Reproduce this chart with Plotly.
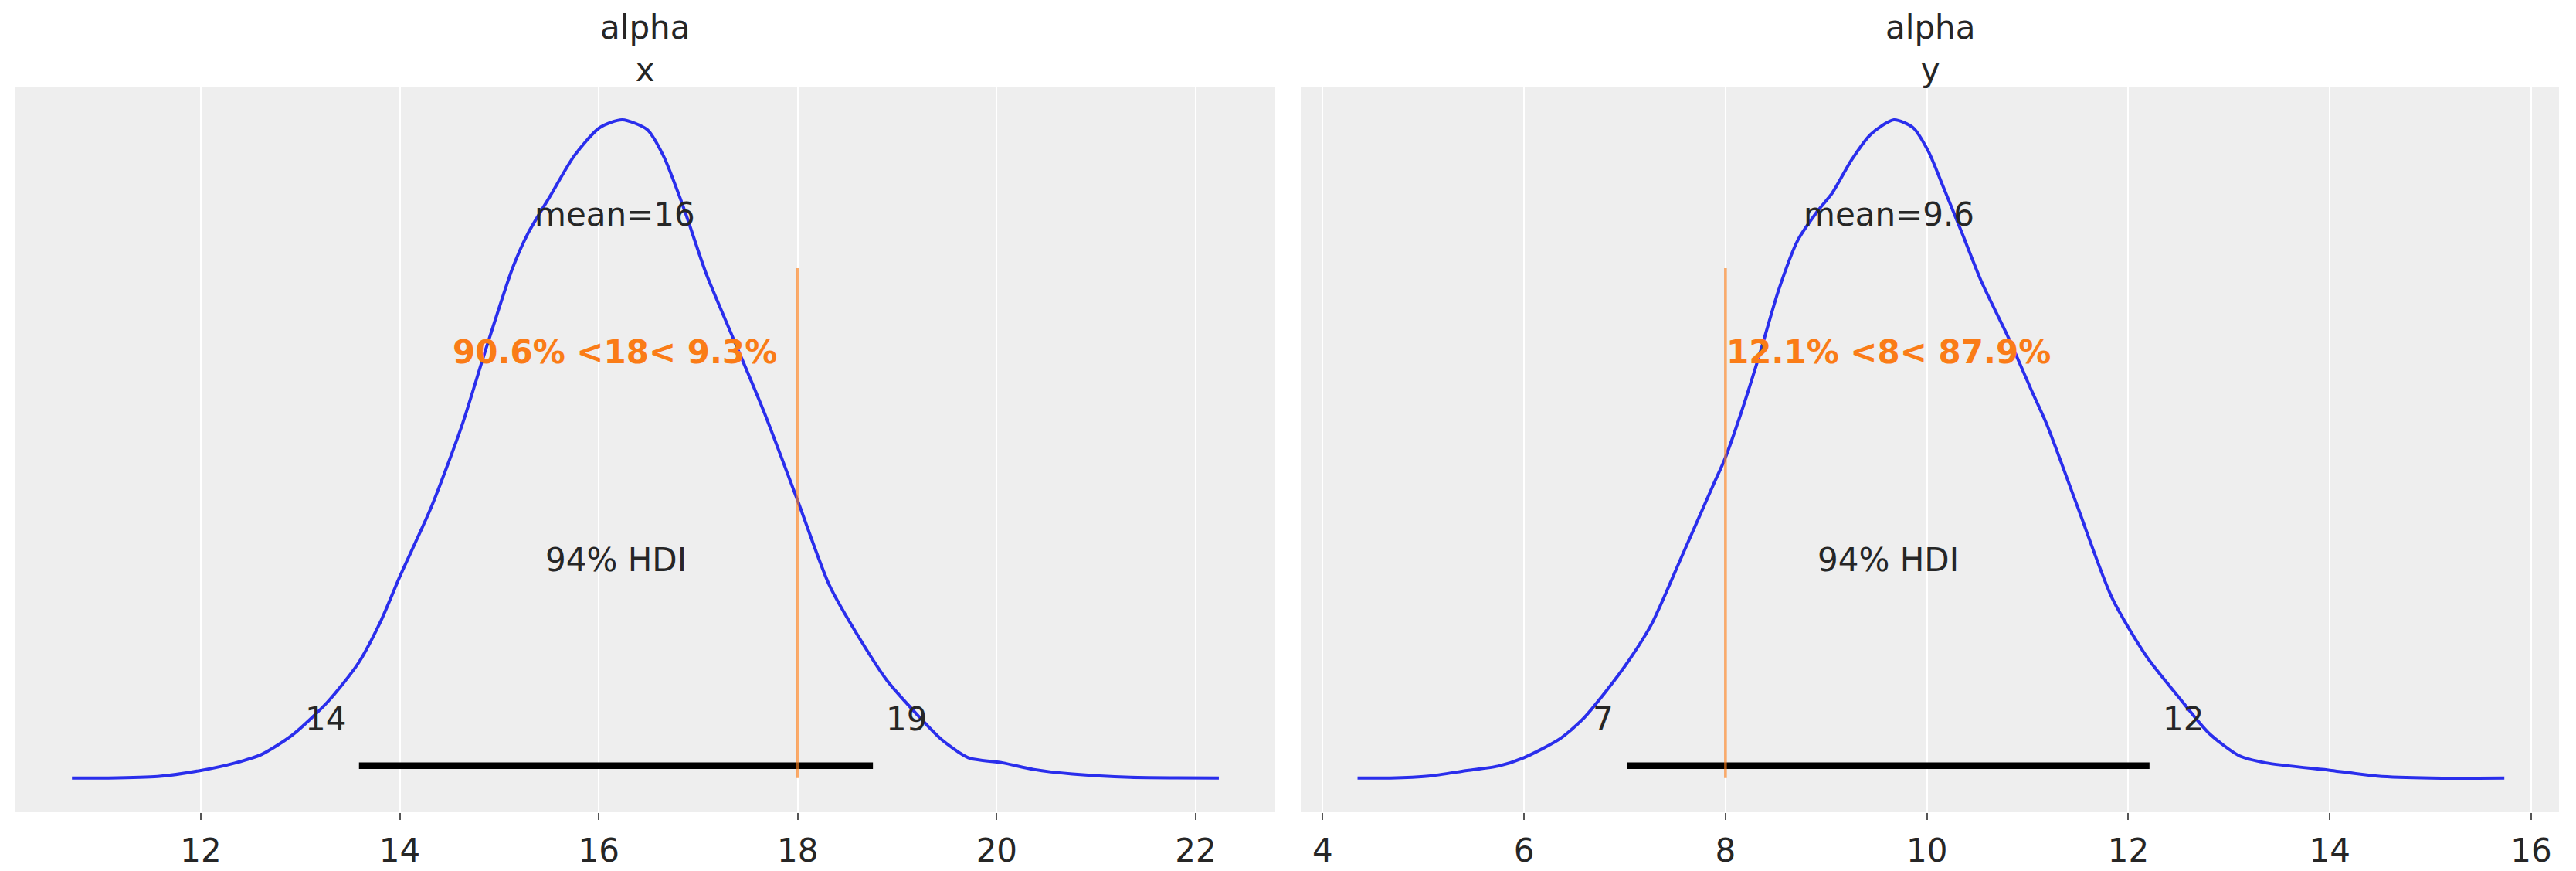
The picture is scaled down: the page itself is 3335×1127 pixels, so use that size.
import plotly.graph_objects as go

# ---------------- data ----------------
var_name = "alpha"
coords = ["x", "y"]

x_grid_x = [10.705, 11.062, 11.566, 12.0, 12.341, 12.612, 12.922, 13.271, 13.581, 13.814,
            14.0, 14.318, 14.628, 14.860, 15.132, 15.287, 15.519, 15.752, 16.008, 16.236,
            16.488, 16.651, 16.806, 16.884, 17.078, 17.349, 17.659, 18.008, 18.318, 18.667,
            18.899, 19.209, 19.442, 19.713, 20.062, 20.372, 20.760, 21.341, 22.233]
x_density = [0.0, 0.0, 0.0023, 0.0115, 0.0227, 0.0359, 0.0656, 0.115, 0.174, 0.240,
             0.306, 0.412, 0.537, 0.649, 0.774, 0.827, 0.886, 0.945, 0.988, 1.0,
             0.985, 0.945, 0.886, 0.853, 0.767, 0.669, 0.557, 0.418, 0.293, 0.201,
             0.148, 0.095, 0.059, 0.031, 0.023, 0.013, 0.006, 0.001, 0.0]

y_grid_x = [4.347, 4.672, 5.053, 5.435, 5.740, 6.0, 6.351, 6.580, 6.809, 7.038,
            7.267, 7.573, 7.878, 7.992, 8.145, 8.336, 8.527, 8.718, 8.908, 9.061,
            9.252, 9.443, 9.672, 9.863, 10.015, 10.160, 10.351, 10.542, 10.809, 11.038,
            11.191, 11.496, 11.840, 12.183, 12.489, 12.794, 13.099, 13.366, 14.015, 14.473,
            15.008, 15.733]
y_density = [0.0, 0.0, 0.003, 0.0115, 0.018, 0.031, 0.059, 0.089, 0.131, 0.178,
             0.234, 0.339, 0.445, 0.484, 0.550, 0.642, 0.741, 0.817, 0.860, 0.889,
             0.939, 0.978, 1.0, 0.988, 0.952, 0.899, 0.827, 0.754, 0.669, 0.589,
             0.537, 0.412, 0.273, 0.184, 0.125, 0.069, 0.034, 0.023, 0.0115, 0.003,
             0.0, 0.0]

mean_pos = [16.16, 9.62]
mean_labels = ["mean=16", "mean=9.6"]
ref_vals = [18, 8]
ref_labels = ["90.6% <18< 9.3%", "12.1% <8< 87.9%"]
hdi_low = [13.59, 7.02]
hdi_high = [18.756, 12.21]
hdi_low_labels = ["14", "7"]
hdi_high_labels = ["19", "12"]
hdi_text = "94% HDI"

x_ranges = [[10.133, 22.80], [3.783, 16.276]]
x_ticks = [[12, 14, 16, 18, 20, 22], [4, 6, 8, 10, 12, 14, 16]]

# ---------------- styling ----------------
W, H = 3335, 1127
FONT = "DejaVu Sans"
TXT = "#262626"
BLUE = "#2a2eec"
ORANGE = "#fa7c17"
REF_LINE = "rgba(250,124,23,0.65)"
FS = 42

dom_x = [[19.5 / W, 1651 / W], [1684 / W, 3313 / W]]
dom_y = [1 - 1051 / H, 1 - 113 / H]
y_range = [-0.052, 1.0493]

fig = go.Figure()

curves = [(x_grid_x, x_density), (y_grid_x, y_density)]
annotations = []
for i in range(2):
    xa = "x" if i == 0 else "x2"
    ya = "y" if i == 0 else "y2"
    gx, gd = curves[i]
    fig.add_trace(go.Scatter(x=gx, y=gd, mode="lines", xaxis=xa, yaxis=ya,
                             line=dict(color=BLUE, width=4, shape="spline", smoothing=0.7),
                             hoverinfo="skip", showlegend=False))
    # HDI bar
    fig.add_trace(go.Scatter(x=[hdi_low[i], hdi_high[i]], y=[0.0188, 0.0188], mode="lines",
                             xaxis=xa, yaxis=ya, line=dict(color="black", width=8.5),
                             hoverinfo="skip", showlegend=False))
    # reference line
    fig.add_trace(go.Scatter(x=[ref_vals[i], ref_vals[i]], y=[0.0, 0.7746], mode="lines",
                             xaxis=xa, yaxis=ya, line=dict(color=REF_LINE, width=3.5),
                             hoverinfo="skip", showlegend=False))

    common = dict(xref=xa, yref=ya, showarrow=False)
    annotations.append(dict(x=mean_pos[i], y=0.8556, text=mean_labels[i], xanchor="center",
                            yanchor="middle", font=dict(family=FONT, size=FS, color=TXT), **common))
    annotations.append(dict(x=mean_pos[i], y=0.6466, text="<b>" + ref_labels[i].replace("<", "&lt;") + "</b>",
                            xanchor="center", yanchor="middle",
                            font=dict(family=FONT, size=FS, color=ORANGE), **common))
    annotations.append(dict(x=(hdi_low[i] + hdi_high[i]) / 2, y=0.3311, text=hdi_text,
                            xanchor="center", yanchor="middle",
                            font=dict(family=FONT, size=FS, color=TXT), **common))
    annotations.append(dict(x=hdi_low[i], y=0.0889, text=hdi_low_labels[i], xanchor="right",
                            xshift=-15, yanchor="middle",
                            font=dict(family=FONT, size=FS, color=TXT), **common))
    annotations.append(dict(x=hdi_high[i], y=0.0889, text=hdi_high_labels[i], xanchor="left",
                            xshift=15, yanchor="middle",
                            font=dict(family=FONT, size=FS, color=TXT), **common))
    # title
    annotations.append(dict(x=(dom_x[i][0] + dom_x[i][1]) / 2, y=dom_y[1], xref="paper", yref="paper",
                            text=var_name + "<br>" + coords[i], showarrow=False,
                            xanchor="center", yanchor="bottom", yshift=-4,
                            font=dict(family=FONT, size=FS, color=TXT)))

xaxis_common = dict(showgrid=True, gridcolor="white", gridwidth=2, zeroline=False,
                    showline=False, ticks="outside", ticklen=9, tickwidth=2, tickcolor="#555555",
                    ticklabelstandoff=4,
                    tickfont=dict(family=FONT, size=FS, color=TXT), fixedrange=True)
yaxis_common = dict(showgrid=False, zeroline=False, showticklabels=False, ticks="",
                    showline=False, range=y_range, fixedrange=True)

fig.update_layout(
    width=W, height=H,
    margin=dict(l=0, r=0, t=0, b=0),
    paper_bgcolor="white",
    plot_bgcolor="#eeeeee",
    xaxis=dict(domain=dom_x[0], range=x_ranges[0], tickvals=x_ticks[0], anchor="y", **xaxis_common),
    xaxis2=dict(domain=dom_x[1], range=x_ranges[1], tickvals=x_ticks[1], anchor="y2", **xaxis_common),
    yaxis=dict(domain=dom_y, anchor="x", **yaxis_common),
    yaxis2=dict(domain=dom_y, anchor="x2", **yaxis_common),
    annotations=annotations,
    showlegend=False,
)

fig.write_html("out.html")
